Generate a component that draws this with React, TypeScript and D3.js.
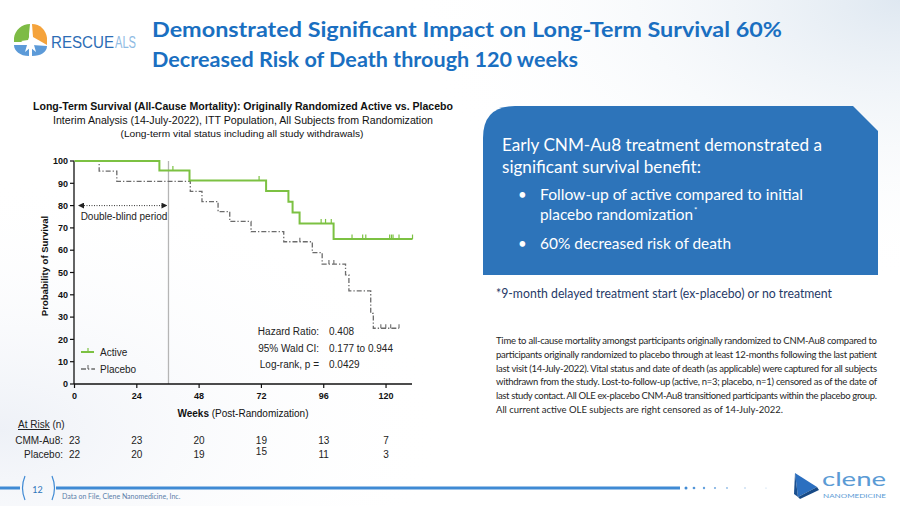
import React from "react";
import * as d3 from "d3";

// ---------- data ----------
const weekTicks = [0, 24, 48, 72, 96, 120];
const survTicks = [0, 10, 20, 30, 40, 50, 60, 70, 80, 90, 100];

const activeTimes = [0, 32.7, 44.3, 73.8, 82.4, 84.0, 86.7, 99.8, 130.2];
const activeSurv = [100, 95.7, 91.3, 86.5, 81.7, 76.9, 72.0, 65.0, 65.0];
const activeCensor = [37.9, 71.1, 95.0, 96.7, 98.9, 106.9, 111.0, 112.2, 121.4, 122.1, 122.7, 125.0, 130.2];

const placeboTimes = [0, 9.5, 16.3, 44.6, 49.1, 55.3, 59.8, 68.0, 80.6, 91.6, 95.4, 104.4, 105.7, 114.1, 115.1, 125.0];
const placeboSurv = [100, 95.5, 90.9, 86.4, 81.8, 77.3, 72.9, 68.3, 63.8, 58.9, 53.8, 48.9, 41.8, 31.7, 25.0, 25.0];
const placeboCensor = [86.8, 98.0, 99.9, 118.0, 119.9, 121.8, 125.0];

const atRiskGroups = ["CMM-Au8:", "Placebo:"];
const atRiskActive = [23, 23, 20, 19, 13, 7];
const atRiskPlacebo = [22, 20, 19, 15, 11, 3];

const statLabels = ["Hazard Ratio:", "95% Wald CI:", "Log-rank, p ="];
const statValues = ["0.408", "0.177 to 0.944", "0.0429"];

const doubleBlindEnd = 36.2;

const paragraphLines = [
  "Time to all-cause mortality amongst participants originally randomized to CNM-Au8 compared to",
  "participants originally randomized to placebo through at least 12-months following the last patient",
  "last visit (14-July-2022). Vital status and date of death (as applicable) were captured for all subjects",
  "withdrawn from the study. Lost-to-follow-up (active, n=3; placebo, n=1) censored as of the date of",
  "last study contact. All OLE ex-placebo CNM-Au8 transitioned participants within the placebo group.",
  "All current active OLE subjects are right censored as of 14-July-2022.",
];

// ---------- styles ----------
const BLUE = "#1a6fc1";
const BOX = "#2d74ba";
const GREEN = "#7cc142";
const GRAY = "#6b6b6b";
const CHART_FONT = "'Liberation Sans', Arial, sans-serif";
const SLIDE_FONT = "Lato, 'Open Sans', sans-serif";

const x = d3.scaleLinear().domain([0, 130]).range([74.5, 412]);
const y = d3.scaleLinear().domain([0, 100]).range([384, 161]);

function survAt(times: number[], surv: number[], t: number) {
  let v = surv[0];
  for (let i = 0; i < times.length; i++) if (times[i] <= t) v = surv[i];
  return v;
}

const stepLine = d3
  .line<[number, number]>()
  .x((d) => x(d[0]))
  .y((d) => y(d[1]))
  .curve(d3.curveStepAfter);

export default function App() {
  const activePts = activeTimes.map((t, i) => [t, activeSurv[i]] as [number, number]);
  const placeboPts = placeboTimes.map((t, i) => [t, placeboSurv[i]] as [number, number]);
  const placeboDash = "5,2,1.3,2";

  return (
    <svg
      width={900}
      height={506}
      viewBox="0 0 900 506"
      style={{ position: "absolute", left: 0, top: 0, background: "#fff" }}
    >
      <defs>
        <radialGradient id="bgTR" cx="1" cy="0" r="0.55">
          <stop offset="0" stopColor="#dfe8f1" />
          <stop offset="1" stopColor="#ffffff" stopOpacity="0" />
        </radialGradient>
        <radialGradient id="bgBL" cx="0" cy="0.85" r="0.5">
          <stop offset="0" stopColor="#eef1f7" />
          <stop offset="1" stopColor="#ffffff" stopOpacity="0" />
        </radialGradient>
        <marker id="arrL" markerWidth="6" markerHeight="6" refX="1" refY="3" orient="auto">
          <path d="M6,0 L0,3 L6,6 Z" fill="#222" />
        </marker>
        <marker id="arrR" markerWidth="6" markerHeight="6" refX="5" refY="3" orient="auto">
          <path d="M0,0 L6,3 L0,6 Z" fill="#222" />
        </marker>
      </defs>
      <rect width={900} height={506} fill="#fff" />
      <rect width={900} height={506} fill="url(#bgTR)" />
      <rect width={900} height={506} fill="url(#bgBL)" />

      {/* logo */}
      <g>
        <path d="M30,24 C22,24 15,30 14,38 L14,42 L29,42 L29,34 Z" fill="#7dbb45" />
        <path d="M32,24 C40,24 46,30 47,38 L47,45 L33,37 Z" fill="#f5a33b" />
        <path d="M14,45 L29,45 L29,56 C20,56 14,51 14,45 Z" fill="#5c9ad8" />
        <path d="M32,45 L47,46 C47,52 41,56 32,56 Z" fill="#5c9ad8" />
        <path d="M30.5,33 L33,40 L40,41 L34,45 L36,52 L30.5,47.5 L25,52 L27,45 L21,41 L28,40 Z" fill="#fff" />
        <text x={51} y={48} fontFamily="'Liberation Sans Narrow', 'Liberation Sans', sans-serif" fontSize={16} fill="#2c6db5" textLength={63} lengthAdjust="spacingAndGlyphs">RESCUE</text>
        <text x={115} y={48} fontFamily="'Liberation Sans Narrow', 'Liberation Sans', sans-serif" fontSize={16} fill="#8fbbe3" textLength={21} lengthAdjust="spacingAndGlyphs">ALS</text>
      </g>

      {/* title */}
      <text x={152} y={37} fontFamily={SLIDE_FONT} fontWeight={700} fontSize={21} fill={BLUE} textLength={630} lengthAdjust="spacingAndGlyphs">
        Demonstrated Significant Impact on Long-Term Survival 60%
      </text>
      <text x={152} y={67} fontFamily={SLIDE_FONT} fontWeight={700} fontSize={21} fill={BLUE} textLength={426} lengthAdjust="spacingAndGlyphs">
        Decreased Risk of Death through 120 weeks
      </text>

      {/* chart titles */}
      <g fontFamily={CHART_FONT} fill="#111" textAnchor="middle">
        <text x={243} y={110} fontSize={10.5} fontWeight={700} textLength={420} lengthAdjust="spacingAndGlyphs">
          Long-Term Survival (All-Cause Mortality): Originally Randomized Active vs. Placebo
        </text>
        <text x={243} y={124} fontSize={10.5} textLength={380} lengthAdjust="spacingAndGlyphs">
          Interim Analysis (14-July-2022), ITT Population, All Subjects from Randomization
        </text>
        <text x={242} y={137} fontSize={9.5} textLength={243} lengthAdjust="spacingAndGlyphs">
          (Long-term vital status including all study withdrawals)
        </text>
      </g>

      {/* double blind divider */}
      <line x1={x(doubleBlindEnd)} x2={x(doubleBlindEnd)} y1={y(100)} y2={y(0)} stroke="#b5b5b5" strokeWidth={1.3} />
      <line x1={79} x2={x(doubleBlindEnd) - 2} y1={y(80)} y2={y(80)} stroke="#333" strokeWidth={1} strokeDasharray="1,1.5" markerStart="url(#arrL)" markerEnd="url(#arrR)" />
      <text x={124} y={220} fontFamily={CHART_FONT} fontSize={10} textAnchor="middle" fill="#222">Double-blind period</text>

      {/* axes */}
      <g fontFamily={CHART_FONT} fontWeight={700} fontSize={9} fill="#111">
        <line x1={74} x2={74} y1={y(100)} y2={y(0)} stroke="#111" strokeWidth={1.3} />
        {survTicks.map((t) => (
          <g key={t}>
            <line x1={70} x2={74} y1={y(t)} y2={y(t)} stroke="#111" strokeWidth={1.2} />
            <text x={68} y={y(t) + 3.2} textAnchor="end">{t}</text>
          </g>
        ))}
        <line x1={74} x2={412} y1={y(0)} y2={y(0)} stroke="#111" strokeWidth={1.3} />
        {weekTicks.map((t) => (
          <g key={t}>
            <line x1={x(t)} x2={x(t)} y1={y(0)} y2={y(0) + 4} stroke="#111" strokeWidth={1.2} />
            <text x={x(t)} y={399} textAnchor="middle">{t}</text>
          </g>
        ))}
        <text transform="translate(48,266) rotate(-90)" textAnchor="middle" fontSize={9.5}>Probability of Survival</text>
        <text x={243} y={417} textAnchor="middle" fontSize={10}>
          Weeks <tspan fontWeight={400}>(Post-Randomization)</tspan>
        </text>
      </g>

      {/* curves */}
      <path d={stepLine(placeboPts) || ""} fill="none" stroke={GRAY} strokeWidth={1.3} strokeDasharray={placeboDash} />
      {placeboCensor.map((t, i) => {
        const v = survAt(placeboTimes, placeboSurv, t);
        return <line key={i} x1={x(t)} x2={x(t)} y1={y(v)} y2={y(v) - 4} stroke={GRAY} strokeWidth={1.1} />;
      })}
      <path d={stepLine(activePts) || ""} fill="none" stroke={GREEN} strokeWidth={2} />
      {activeCensor.map((t, i) => {
        const v = survAt(activeTimes, activeSurv, t);
        return <line key={i} x1={x(t)} x2={x(t)} y1={y(v)} y2={y(v) - 4.5} stroke={GREEN} strokeWidth={1.2} />;
      })}

      {/* legend */}
      <g fontFamily={CHART_FONT} fontSize={10} fill="#222">
        <line x1={81} x2={94} y1={352} y2={352} stroke={GREEN} strokeWidth={2} />
        <line x1={88} x2={88} y1={352} y2={348} stroke={GREEN} strokeWidth={1.2} />
        <text x={100} y={355.5}>Active</text>
        <line x1={81} x2={95} y1={369} y2={369} stroke={GRAY} strokeWidth={1.3} strokeDasharray={placeboDash} />
        <line x1={88} x2={88} y1={369} y2={365} stroke={GRAY} strokeWidth={1.1} />
        <text x={100} y={372.5}>Placebo</text>
      </g>

      {/* stats */}
      <g fontFamily={CHART_FONT} fontSize={10} fill="#222">
        {statLabels.map((s, i) => (
          <g key={s}>
            <text x={319} y={335 + i * 16.7} textAnchor="end">{s}</text>
            <text x={329} y={335 + i * 16.7}>{statValues[i]}</text>
          </g>
        ))}
      </g>

      {/* at risk */}
      <g fontFamily={CHART_FONT} fontSize={10} fill="#222">
        <text x={18} y={428}>
          <tspan textDecoration="underline">At Risk</tspan> (n)
        </text>
        <text x={63} y={444} textAnchor="end">{atRiskGroups[0]}</text>
        <text x={63} y={458} textAnchor="end">{atRiskGroups[1]}</text>
        {atRiskActive.map((n, i) => (
          <text key={"a" + i} x={x(weekTicks[i])} y={444} textAnchor="middle">{n}</text>
        ))}
        {atRiskPlacebo.map((n, i) => (
          <text key={"p" + i} x={x(weekTicks[i])} y={i === 3 ? 455 : 458} textAnchor="middle">{n}</text>
        ))}
      </g>

      {/* right panel box */}
      <path d="M483,275 L483,138 Q483,106 515,106 L853,106 L878,131 L878,275 Z" fill={BOX} />
      <g fontFamily={SLIDE_FONT} fill="#fff">
        <text x={502} y={151} fontSize={17} textLength={320} lengthAdjust="spacingAndGlyphs">Early CNM-Au8 treatment demonstrated a</text>
        <text x={502} y={173} fontSize={17} textLength={199} lengthAdjust="spacingAndGlyphs">significant survival benefit:</text>
        <text x={518} y={200} fontSize={15}>•</text>
        <text x={540} y={200} fontSize={15} textLength={263} lengthAdjust="spacingAndGlyphs">Follow-up of active compared to initial</text>
        <text x={540} y={220} fontSize={15} textLength={153} lengthAdjust="spacingAndGlyphs">placebo randomization</text>
        <text x={694} y={213} fontSize={8}>*</text>
        <text x={518} y={249} fontSize={15}>•</text>
        <text x={540} y={249} fontSize={15} textLength={191} lengthAdjust="spacingAndGlyphs">60% decreased risk of death</text>
      </g>

      {/* footnote */}
      <text x={496} y={298} fontFamily={SLIDE_FONT} fontSize={13} fill="#1f3a68" textLength={336} lengthAdjust="spacingAndGlyphs">
        *9-month delayed treatment start (ex-placebo) or no treatment
      </text>

      {/* paragraph */}
      <g fontFamily={SLIDE_FONT} fontSize={9.5} fill="#262626">
        {paragraphLines.map((l, i) => (
          <text
            key={i}
            x={496}
            y={344 + i * 13.8}
            textLength={i === paragraphLines.length - 1 ? 287 : 381}
            lengthAdjust={i === paragraphLines.length - 1 ? "spacingAndGlyphs" : "spacing"}
          >
            {l}
          </text>
        ))}
      </g>

      {/* footer */}
      <g>
        <line x1={0} x2={20} y1={488} y2={488} stroke="#3f8ad4" strokeWidth={3} />
        <path d="M25,476 Q20,488 25,500" fill="none" stroke="#3f8ad4" strokeWidth={1.2} />
        <text x={37.5} y={492.5} fontFamily={SLIDE_FONT} fontSize={9} fill="#2d74ba" textAnchor="middle">12</text>
        <path d="M52,476 Q57,488 52,500" fill="none" stroke="#3f8ad4" strokeWidth={1.2} />
        <line x1={56} x2={680} y1={488} y2={488} stroke="#3f8ad4" strokeWidth={3} />
        {[686, 694, 704, 715, 727, 745, 766].map((cx, i) => (
          <circle key={cx} cx={cx} cy={488} r={Math.max(0.6, 1.5 - i * 0.15)} fill="#3f8ad4" opacity={1 - i * 0.1} />
        ))}
        <text x={62} y={499} fontFamily={SLIDE_FONT} fontSize={7} fill="#5a7ea8">Data on File, Clene Nanomedicine, Inc.</text>
        {/* clene logo */}
        <path d="M795,473 L817,487 L798,497 Z" fill="#2b6fc0" />
        <path d="M795,473 L798,497 L794,494 Z" fill="#1a4f8f" />
        <path d="M798,497 L817,487 L819,490 L800,499 Z" fill="#174a86" />
        <text x={822} y={486} fontFamily={SLIDE_FONT} fontSize={19} fill="#5b9bd5" textLength={64} lengthAdjust="spacingAndGlyphs">clene</text>
        <text x={823} y={498} fontFamily={SLIDE_FONT} fontSize={6} fill="#5b9bd5" textLength={63} lengthAdjust="spacingAndGlyphs">NANOMEDICINE</text>
      </g>
    </svg>
  );
}
